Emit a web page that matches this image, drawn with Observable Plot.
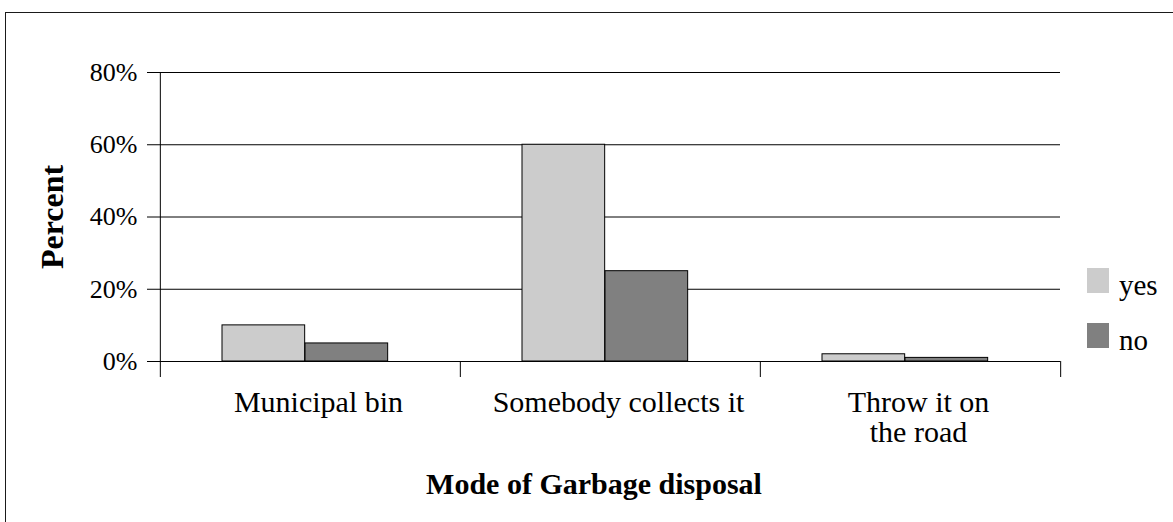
<!DOCTYPE html>
<html>
<head>
<meta charset="utf-8">
<script src="https://cdn.jsdelivr.net/npm/d3@7"></script>
<script src="https://cdn.jsdelivr.net/npm/@observablehq/plot@0.6"></script>
<style>
  html, body { margin: 0; padding: 0; background: #fff; overflow: hidden; }
  body { width: 1173px; height: 522px; position: relative; font-family: 'Liberation Serif', 'Times New Roman', serif; }
  #chart { position: absolute; left: 0; top: 0; }
  #border { position: absolute; left: 5px; top: 12px; width: 1300px; height: 700px; border: 1px solid #1a1a1a; pointer-events: none; }
  #legend { position: absolute; left: 1087px; top: 268px; }
  .item { position: absolute; left: 0; height: 25px; white-space: nowrap; }
  .sw { position: absolute; left: 0; top: 0; width: 22px; height: 25px; }
  .lab { position: absolute; left: 32px; top: 5px; font-size: 29px; line-height: 25px; color: #000; }
</style>
</head>
<body>
<div id="chart"></div>
<div id="legend"></div>
<div id="border"></div>
<script>
// ---- data ----
const categories = ["Municipal bin", "Somebody collects it", "Throw it on the road"];
const tickLabels = ["Municipal bin", "Somebody collects it", "Throw it on\nthe road"];
const series = ["yes", "no"];
const yesValues = [10, 60, 2];
const noValues = [5, 25, 1];
const colors = ["#cccccc", "#808080"];
const yTicks = [0, 20, 40, 60, 80];
const xTitle = "Mode of Garbage disposal";
const yTitle = "Percent";

// ---- layout ----
const W = 1173, H = 522;
const mL = 159, mR = 113, mT = 72, mB = 161;
const bw = (W - mL - mR) / categories.length;
const barW = 83;
const off = 62;

const rows = categories.flatMap((c, i) => [
  {cat: c, series: series[0], value: yesValues[i]},
  {cat: c, series: series[1], value: noValues[i]}
]);
const labelOf = new Map(categories.map((c, i) => [c, tickLabels[i]]));

const plot = Plot.plot({
  width: W,
  height: H,
  marginLeft: mL,
  marginRight: mR,
  marginTop: mT,
  marginBottom: mB,
  style: {background: "transparent", fontFamily: "'Liberation Serif', 'Times New Roman', serif", fontSize: "26px", color: "#000", overflow: "visible"},
  x: {domain: categories, padding: 0, axis: null},
  y: {domain: [0, 80], axis: null},
  marks: [
    Plot.gridY(yTicks.filter(t => t > 0), {stroke: "#000", strokeOpacity: 1, strokeWidth: 1}),
    Plot.barY(rows.filter(d => d.series === series[0]), {
      x: "cat", y: "value", fill: colors[0], stroke: "#000", strokeWidth: 1,
      insetLeft: off, insetRight: bw - off - barW
    }),
    Plot.barY(rows.filter(d => d.series === series[1]), {
      x: "cat", y: "value", fill: colors[1], stroke: "#000", strokeWidth: 1,
      insetLeft: off + barW, insetRight: bw - off - 2 * barW
    }),
    Plot.ruleY([0], {stroke: "#000", strokeWidth: 1}),
    // left axis line (extends below baseline as first category tick)
    Plot.ruleX([categories[0]], {y1: 80, y2: 0, dx: -bw / 2, insetBottom: -16, stroke: "#000"}),
    // category boundary ticks
    Plot.ruleX(categories.slice(1), {y1: 0, y2: 0, dx: -bw / 2, insetBottom: -16, stroke: "#000"}),
    Plot.ruleX([categories[categories.length - 1]], {y1: 0, y2: 0, dx: bw / 2, insetBottom: -16, stroke: "#000"}),
    Plot.axisY({ticks: yTicks, tickSize: 12, tickPadding: 10, tickFormat: d => d + "%", label: null, fontSize: 26, stroke: "#000"}),
    Plot.axisX({tickSize: 0, tickPadding: 29, dx: 8, tickFormat: d => labelOf.get(d), label: null, fontSize: 30}),
    Plot.text([xTitle], {frameAnchor: "bottom", dy: 111, dx: -16, lineAnchor: "top", fontSize: 30, fontWeight: "bold", fill: "#000"}),
    Plot.text([yTitle], {frameAnchor: "left", dx: -107, rotate: -90, textAnchor: "middle", lineAnchor: "middle", fontSize: 32, fontWeight: "bold", fill: "#000"})
  ]
});
document.getElementById("chart").appendChild(plot);

// legend
const legend = document.getElementById("legend");
series.forEach((s, i) => {
  const item = document.createElement("div");
  item.className = "item";
  item.style.top = (i * 55) + "px";
  const sw = document.createElement("div");
  sw.className = "sw";
  sw.style.background = colors[i];
  const lab = document.createElement("span");
  lab.className = "lab";
  lab.textContent = s;
  item.appendChild(sw);
  item.appendChild(lab);
  legend.appendChild(item);
});
</script>
</body>
</html>
